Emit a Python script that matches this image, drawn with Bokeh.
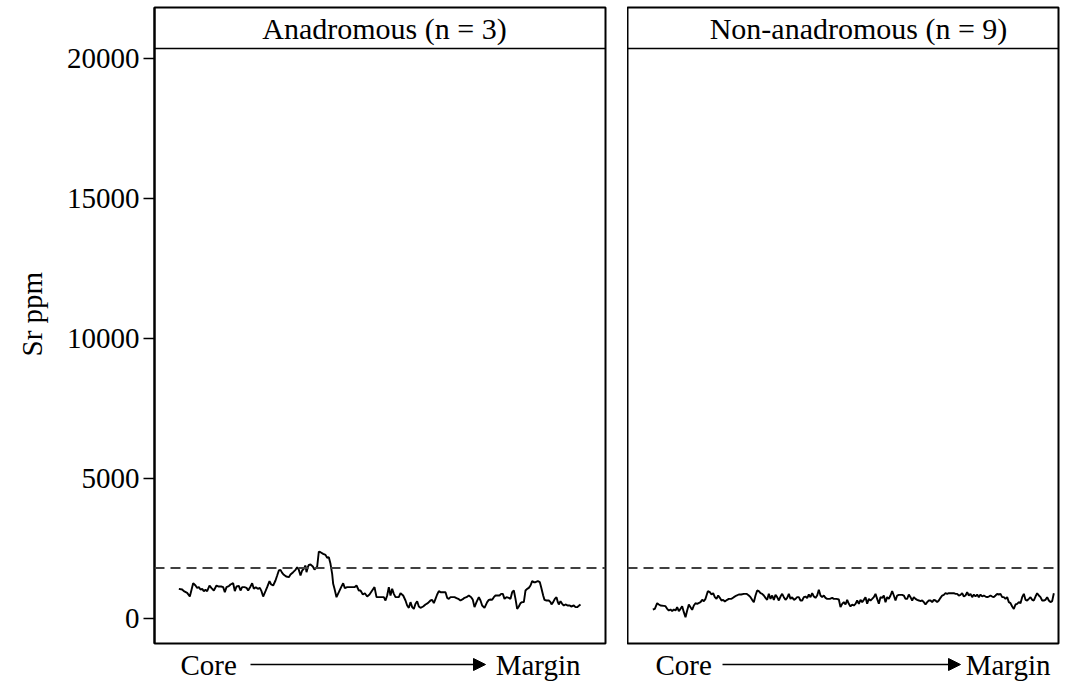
import math
from bokeh.plotting import figure
from bokeh.layouts import row, column
from bokeh.models import Span, Label, Arrow, NormalHead, FixedTicker, Range1d
from bokeh.embed import file_html
from bokeh.resources import INLINE

# ---- data ----
panel_titles = ["Anadromous (n = 3)", "Non-anadromous (n = 9)"]
threshold_sr = 1800
y_ticks = [0, 5000, 10000, 15000, 20000]
x_start_label = "Core"
x_end_label = "Margin"
y_label = "Sr ppm"

anad_pos = [85, 95, 100, 110, 118, 128, 135, 140, 145, 150, 155, 160, 165, 170, 177, 183, 190, 198, 205, 212,
            218, 223, 228, 235, 240, 248, 253, 258, 265, 270, 275, 282, 288, 293, 300, 305, 310, 316, 322, 328,
            333, 338, 345, 350, 357, 362, 368, 375, 380, 385, 390, 395, 400, 407, 415, 420, 428, 435, 440, 445,
            450, 455, 460, 465, 468, 472, 475, 480, 487, 492, 500, 505, 510, 518, 525, 530, 535, 540, 545, 548,
            552, 558, 565, 572, 578, 583, 590, 598, 605, 612, 618, 625, 630, 637, 643, 650, 657, 665, 672, 678,
            685, 692, 700, 705, 710, 715, 720, 725, 730, 735, 740, 745, 750, 758, 765, 770, 775, 780, 785, 790,
            795, 800, 805, 810, 818, 825, 832, 840, 845, 850, 855, 860, 865, 870, 878, 885, 890, 895, 900, 905,
            912, 918, 925, 930, 937, 942, 948, 955, 962, 967, 972, 978, 985, 990, 995, 1002, 1010, 1015, 1020, 1025,
            1030, 1035, 1040, 1047, 1052, 1057, 1062, 1068, 1075, 1080, 1085, 1090, 1095, 1100, 1105, 1110, 1115, 1120, 1125, 1130,
            1135, 1140, 1145, 1150, 1155, 1162, 1168, 1172, 1178, 1182, 1188, 1195, 1200, 1203, 1208, 1213, 1218, 1222, 1225, 1230,
            1235, 1240, 1245, 1252, 1258, 1262, 1270, 1275, 1280, 1285, 1290]
anad_sr = [1059, 1035, 976, 916, 785, 1261, 1178, 1095, 1119, 1035, 1059, 976, 1023, 976, 1178, 1083, 1000, 1178, 1142, 1142,
           1119, 940, 1119, 1154, 1214, 1261, 976, 1142, 1166, 1000, 1119, 1119, 1095, 1000, 1142, 1261, 1059, 1119, 1059, 1095,
           976, 785, 976, 1119, 1333, 1214, 1178, 1357, 1535, 1714, 1737, 1630, 1559, 1499, 1476, 1571, 1654, 1737, 1833, 1737,
           1535, 1714, 1773, 1892, 1654, 1833, 1916, 1928, 1856, 1749, 1856, 2392, 2368, 2309, 2273, 2166, 2190, 1952, 1595, 1238,
           1059, 762, 940, 1119, 1261, 1083, 1119, 1119, 1119, 1119, 1178, 1000, 1000, 857, 904, 785, 857, 1000, 1119, 762,
           762, 762, 762, 643, 821, 1119, 821, 1059, 881, 762, 762, 762, 904, 821, 643, 464, 381, 583, 405, 345,
           524, 619, 428, 381, 428, 500, 547, 643, 666, 547, 702, 857, 976, 940, 940, 940, 738, 702, 762, 762,
           762, 726, 690, 643, 690, 738, 762, 821, 762, 666, 405, 583, 762, 643, 464, 381, 583, 666, 678, 666,
           762, 821, 821, 821, 881, 881, 702, 762, 738, 702, 940, 1000, 702, 345, 428, 547, 583, 583, 1000, 1059,
           1095, 1178, 1333, 1297, 1297, 1333, 1297, 1119, 821, 666, 643, 643, 583, 500, 583, 702, 762, 583, 500, 619,
           524, 464, 500, 464, 464, 428, 464, 405, 405, 452, 500]

nonanad_pos = [97, 103, 110, 115, 120, 130, 135, 140, 145, 150, 155, 160, 165, 170, 175, 180, 185, 190, 195, 200,
               205, 210, 215, 220, 225, 230, 240, 245, 250, 255, 262, 268, 273, 278, 283, 288, 293, 298, 303, 308,
               313, 320, 325, 333, 340, 348, 355, 362, 370, 378, 385, 390, 395, 400, 405, 410, 415, 420, 425, 430,
               435, 440, 445, 450, 455, 460, 465, 470, 475, 480, 485, 490, 495, 500, 505, 510, 515, 520, 525, 530,
               535, 540, 545, 550, 555, 560, 565, 570, 575, 580, 585, 590, 595, 600, 605, 610, 615, 620, 628, 635,
               640, 648, 655, 660, 665, 670, 675, 680, 685, 690, 695, 700, 705, 710, 715, 720, 725, 730, 735, 740,
               745, 750, 755, 760, 765, 770, 775, 780, 785, 790, 795, 800, 805, 810, 815, 820, 825, 830, 835, 840,
               845, 850, 855, 860, 865, 870, 875, 880, 885, 890, 895, 900, 905, 910, 915, 920, 925, 930, 935, 940,
               945, 950, 955, 960, 965, 970, 975, 980, 985, 990, 1000, 1005, 1010, 1015, 1020, 1025, 1030, 1035, 1040, 1045,
               1050, 1055, 1060, 1065, 1070, 1075, 1080, 1085, 1090, 1095, 1100, 1105, 1110, 1115, 1120, 1125, 1130, 1135, 1140, 1145,
               1150, 1155, 1160, 1165, 1170, 1175, 1180, 1185, 1190, 1195, 1200, 1205, 1210, 1215, 1220, 1225, 1230, 1235, 1240, 1245,
               1250, 1255, 1260, 1265, 1270, 1275, 1280, 1285, 1290, 1295, 1300]
nonanad_sr = [321, 345, 547, 500, 464, 452, 440, 345, 286, 321, 262, 321, 286, 405, 262, 345, 440, 226, 48, 286,
              500, 405, 309, 464, 547, 524, 583, 666, 619, 702, 976, 940, 857, 904, 762, 702, 821, 738, 643, 666,
              607, 666, 702, 702, 762, 821, 857, 857, 881, 881, 821, 762, 666, 583, 821, 1000, 976, 904, 881, 821,
              738, 666, 881, 702, 821, 666, 845, 762, 643, 785, 881, 762, 666, 738, 881, 702, 762, 666, 702, 762,
              762, 643, 643, 762, 785, 726, 857, 762, 904, 785, 738, 821, 1023, 821, 762, 821, 738, 702, 702, 738,
              702, 702, 678, 405, 524, 583, 500, 666, 524, 428, 500, 464, 524, 643, 524, 666, 583, 666, 762, 524,
              702, 643, 702, 762, 881, 702, 524, 762, 738, 821, 583, 762, 702, 821, 976, 821, 643, 821, 845, 845,
              845, 821, 702, 702, 857, 762, 643, 762, 702, 666, 643, 619, 643, 583, 500, 583, 643, 643, 583, 666,
              643, 583, 643, 738, 821, 845, 904, 881, 904, 904, 904, 881, 881, 821, 845, 904, 785, 821, 940, 821,
              881, 762, 857, 785, 857, 762, 857, 785, 821, 785, 762, 785, 821, 785, 762, 821, 881, 857, 881, 762,
              762, 702, 762, 583, 547, 428, 345, 500, 524, 583, 547, 762, 881, 666, 643, 702, 762, 666, 643, 785,
              904, 821, 762, 643, 643, 666, 762, 643, 583, 619, 904]

FONT = "Liberation Serif"
FS = "29px"
FS_TITLE = "30px"

Y0, Y1 = -893, 21821
STRIP_Y = 20357
STRIP_TEXT_Y = 21071
TOP_H = 645
BOT_H = 685 - TOP_H
LAB_W = 56


def blank(width, height, xr, yr, left=0, right=0, top=0, bottom=0):
    b = figure(width=width, height=height, output_backend="svg", toolbar_location=None,
               x_range=Range1d(*xr), y_range=Range1d(*yr),
               min_border_left=left, min_border_right=right,
               min_border_top=top, min_border_bottom=bottom)
    b.xaxis.visible = False
    b.yaxis.visible = False
    b.xgrid.visible = False
    b.ygrid.visible = False
    b.outline_line_color = None
    b.background_fill_color = "white"
    b.border_fill_color = "white"
    return b


def make_panel(width, left_border, right_border, x_range, pos, sr, title, title_x, show_y):
    p = figure(width=width, height=TOP_H, output_backend="svg", toolbar_location=None,
               x_range=Range1d(*x_range), y_range=Range1d(Y0, Y1),
               min_border_left=left_border, min_border_right=right_border,
               min_border_top=7, min_border_bottom=2)
    p.xgrid.visible = False
    p.ygrid.visible = False
    p.xaxis.visible = False
    p.outline_line_color = "black"
    p.outline_line_width = 2
    p.background_fill_color = "white"
    p.border_fill_color = "white"
    if show_y:
        ax = p.yaxis[0]
        ax.ticker = FixedTicker(ticks=y_ticks)
        ax.minor_tick_line_color = None
        ax.major_tick_out = 11
        ax.major_tick_in = 0
        ax.major_tick_line_width = 1.5
        ax.major_tick_line_color = "black"
        ax.axis_line_color = "black"
        ax.axis_line_width = 2
        ax.major_label_standoff = 4
        ax.major_label_text_font = FONT
        ax.major_label_text_font_size = FS
        ax.major_label_text_color = "black"
    else:
        p.yaxis.visible = False

    p.add_layout(Span(location=threshold_sr, dimension="width", line_color="#404040",
                      line_width=2, line_dash="10 6"))
    p.line(pos, sr, line_color="black", line_width=1.9)
    p.add_layout(Span(location=STRIP_Y, dimension="width", line_color="black", line_width=1.5))
    p.add_layout(Label(x=title_x, y=STRIP_TEXT_Y, text=title, text_font=FONT, text_font_size=FS_TITLE,
                       text_align="center", text_baseline="middle", text_color="black"))
    return p


def make_bottom(width, left_border, right_border, x_range, core_x, arrow_x0, arrow_x1, margin_x):
    b = blank(width, BOT_H, x_range, (0, BOT_H), left=left_border, right=right_border)
    yc = 21
    b.add_layout(Label(x=core_x, y=yc, text=x_start_label, text_font=FONT, text_font_size=FS,
                       text_align="left", text_baseline="middle", text_color="black"))
    b.add_layout(Label(x=margin_x, y=yc, text=x_end_label, text_font=FONT, text_font_size=FS,
                       text_align="right", text_baseline="middle", text_color="black"))
    b.add_layout(Arrow(end=NormalHead(size=12, fill_color="black", line_color="black"),
                       x_start=arrow_x0, y_start=yc, x_end=arrow_x1, y_end=yc,
                       line_color="black", line_width=1.5))
    return b


ylab = blank(LAB_W, TOP_H, (0, LAB_W), (0, TOP_H))
ylab.add_layout(Label(x=31, y=TOP_H - 311, text=y_label, text_font=FONT, text_font_size=FS,
                      angle=math.pi / 2, text_align="center", text_baseline="middle", text_color="black"))
ybot = blank(LAB_W, BOT_H, (0, LAB_W), (0, BOT_H))

p1 = make_panel(627 - LAB_W, 154 - LAB_W, 22, (12, 1365), anad_pos, anad_sr, panel_titles[0], 702, True)
p2 = make_panel(439, 0, 8, (21, 1314), nonanad_pos, nonanad_sr, panel_titles[1], 714, False)
b1 = make_bottom(627 - LAB_W, 154 - LAB_W, 22, (12, 1365), 90, 300, 1005, 1290)
b2 = make_bottom(439, 0, 8, (21, 1314), 105, 306, 1020, 1290)

layout = column(row(ylab, p1, p2), row(ybot, b1, b2))
open("out.html", "w").write(file_html(layout, INLINE))
